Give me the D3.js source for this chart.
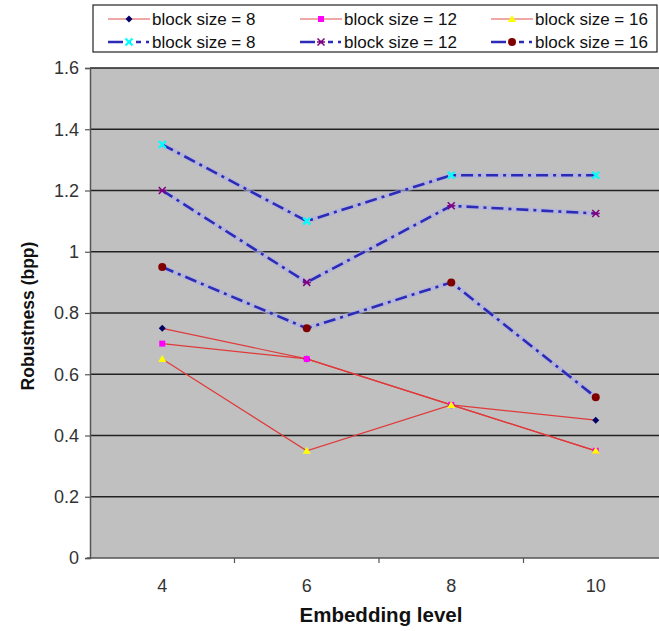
<!DOCTYPE html>
<html>
<head>
<meta charset="utf-8">
<script src="https://cdn.jsdelivr.net/npm/d3@7"></script>
<style>
body{margin:0;background:#fff}
svg{display:block;font-family:"Liberation Sans",Arial,sans-serif}
</style>
</head>
<body>
<div id="chart"></div>
<script>
// data
const levels=["4","6","8","10"]
const yTicks=[0,0.2,0.4,0.6,0.8,1,1.2,1.4,1.6]
const redSeries=[
	{name:"block size = 8",values:[0.75,0.65,0.5,0.45],marker:"diamond",fill:"#000066"},
	{name:"block size = 12",values:[0.7,0.65,0.5,0.35],marker:"square",fill:"#ff00ff"},
	{name:"block size = 16",values:[0.65,0.35,0.5,0.35],marker:"triangle",fill:"#ffff00"}
]
const blueSeries=[
	{name:"block size = 8",values:[1.35,1.1,1.25,1.25],marker:"x",fill:"#00ffff"},
	{name:"block size = 12",values:[1.2,0.9,1.15,1.125],marker:"star",fill:"#800080"},
	{name:"block size = 16",values:[0.95,0.75,0.9,0.525],marker:"circle",fill:"#800000"}
]

const W=659,H=631
const plot={left:90,right:659,top:68,bottom:558}

const svg=d3.select("#chart").append("svg")
	.attr("width",W).attr("height",H)

// the category axis runs past the right edge of the picture (cropped)
const x=d3.scaleBand().domain(levels).range([plot.left,668])
const xc=d=>x(d)+x.bandwidth()/2
const y=d3.scaleLinear().domain([0,1.6]).range([plot.bottom,plot.top])

svg.append("rect")
	.attr("x",plot.left).attr("y",plot.top)
	.attr("width",plot.right-plot.left).attr("height",plot.bottom-plot.top)
	.attr("fill","#c0c0c0")

// gridlines
svg.append("g").selectAll("line").data(yTicks.filter(d=>d>0)).join("line")
	.attr("x1",plot.left).attr("x2",plot.right)
	.attr("y1",d=>y(d)).attr("y2",d=>y(d))
	.attr("stroke","#222").attr("stroke-width",1.6)

// y axis
const yAxis=svg.append("g").attr("transform",`translate(${plot.left},0)`)
	.call(d3.axisLeft(y).tickValues(yTicks).tickSize(5).tickPadding(6).tickFormat(d=>String(d)))
yAxis.select(".domain").attr("stroke","#555").attr("stroke-width",1.5)
yAxis.selectAll(".tick line").attr("stroke","#555").attr("stroke-width",1.2)
yAxis.selectAll("text").attr("font-size",18).attr("fill","#333")
	.attr("font-family","Liberation Sans, Arial, sans-serif")

// x axis
const xAxis=svg.append("g").attr("transform",`translate(0,${plot.bottom})`)
xAxis.append("line").attr("x1",plot.left-3).attr("x2",plot.right)
	.attr("stroke","#555").attr("stroke-width",1.5)
xAxis.selectAll(".tk").data(levels.slice(1)).join("line").attr("class","tk")
	.attr("x1",d=>x(d)).attr("x2",d=>x(d))
	.attr("y1",0).attr("y2",5).attr("stroke","#555").attr("stroke-width",1.2)
xAxis.selectAll("text").data(levels).join("text")
	.attr("x",d=>xc(d)).attr("y",34)
	.attr("text-anchor","middle").attr("font-size",18).attr("fill","#333")
	.text(d=>d)

// titles
svg.append("text").attr("x",381).attr("y",622).attr("text-anchor","middle")
	.attr("font-size",20.5).attr("font-weight","bold").attr("fill","#111").text("Embedding level")
svg.append("text").attr("transform","translate(34,316) rotate(-90)").attr("text-anchor","middle")
	.attr("font-size",17.5).attr("font-weight","bold").attr("fill","#111").text("Robustness (bpp)")

function drawMarker(g,type,fill,x0,y0){
	if(type=="diamond"){
		g.append("path").attr("d",`M${x0},${y0-3.5}L${x0+3.5},${y0}L${x0},${y0+3.5}L${x0-3.5},${y0}Z`).attr("fill",fill)
	}else if(type=="square"){
		g.append("rect").attr("x",x0-3).attr("y",y0-3).attr("width",6).attr("height",6).attr("fill",fill)
	}else if(type=="triangle"){
		g.append("path").attr("d",`M${x0},${y0-4}L${x0+4},${y0+3}L${x0-4},${y0+3}Z`).attr("fill",fill)
	}else if(type=="x"){
		g.append("path").attr("d",`M${x0-3.5},${y0-3.5}L${x0+3.5},${y0+3.5}M${x0+3.5},${y0-3.5}L${x0-3.5},${y0+3.5}`)
			.attr("stroke",fill).attr("stroke-width",2.2)
	}else if(type=="star"){
		g.append("path").attr("d",`M${x0-3.5},${y0-3.5}L${x0+3.5},${y0+3.5}M${x0+3.5},${y0-3.5}L${x0-3.5},${y0+3.5}M${x0-4},${y0}L${x0+4},${y0}`)
			.attr("stroke",fill).attr("stroke-width",1.5)
	}else{
		g.append("circle").attr("cx",x0).attr("cy",y0).attr("r",4).attr("fill",fill)
	}
}

const line=d3.line().x((d,i)=>xc(levels[i])).y(d=>y(d))
const dash="12,5,3,5"

// blue dash-dot series
blueSeries.forEach(s=>{
	svg.append("path").attr("d",line(s.values)).attr("fill","none")
		.attr("stroke","#aeaee4").attr("stroke-width",5).attr("opacity",0.6)
	svg.append("path").attr("d",line(s.values)).attr("fill","none")
		.attr("stroke","#2b2bb8").attr("stroke-width",2.6).attr("stroke-dasharray",dash)
})
// red solid series
redSeries.forEach(s=>{
	svg.append("path").attr("d",line(s.values)).attr("fill","none")
		.attr("stroke","#e03a3a").attr("stroke-width",1.2)
})
const mk=svg.append("g")
blueSeries.concat(redSeries).forEach(s=>{
	s.values.forEach((v,i)=>drawMarker(mk,s.marker,s.fill,xc(levels[i]),y(v)))
})

// legend
const lg=svg.append("g")
lg.append("rect").attr("x",93).attr("y",5).attr("width",564).attr("height",47)
	.attr("fill","#fff").attr("stroke","#222").attr("stroke-width",1.2)
const colX=[108,300,491]
const rowY=[19,42]
redSeries.forEach((s,i)=>{
	const x0=colX[i]
	lg.append("line").attr("x1",x0).attr("x2",x0+42).attr("y1",rowY[0]).attr("y2",rowY[0])
		.attr("stroke","#e05050").attr("stroke-width",1.2)
	drawMarker(lg,s.marker,s.fill,x0+21,rowY[0])
	lg.append("text").attr("x",x0+44).attr("y",rowY[0]+6).attr("font-size",17).attr("fill","#111").text(s.name)
})
blueSeries.forEach((s,i)=>{
	const x0=colX[i]
	lg.append("line").attr("x1",x0).attr("x2",x0+42).attr("y1",rowY[1]).attr("y2",rowY[1])
		.attr("stroke","#2b2bb8").attr("stroke-width",2.6).attr("stroke-dasharray","15,5,3,5,5,5,3,100")
	drawMarker(lg,s.marker,s.fill,x0+21,rowY[1])
	lg.append("text").attr("x",x0+44).attr("y",rowY[1]+6).attr("font-size",17).attr("fill","#111").text(s.name)
})
</script>
</body>
</html>
